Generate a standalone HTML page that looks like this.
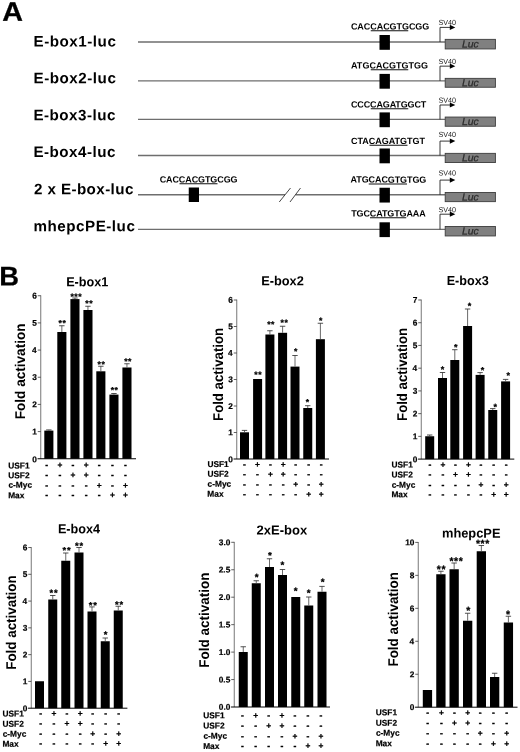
<!DOCTYPE html>
<html lang="en">
<head>
<meta charset="utf-8">
<title>E-box luciferase reporter constructs and fold activation</title>
<style>
html,body{margin:0;padding:0;background:#fff;}
body{width:520px;height:752px;overflow:hidden;}
svg{display:block;font-family:"Liberation Sans", Arial, Helvetica, sans-serif;text-rendering:geometricPrecision;filter:blur(0.3px);}
</style>
</head>
<body>
<svg width="520" height="752" viewBox="0 0 520 752">
<rect width="520" height="752" fill="#fff"/>
<text transform="translate(2.28 20.80) rotate(0.04) scale(1.0693 1)" font-size="26.8" font-weight="bold" fill="#000" stroke="#000" stroke-width="0.3">A</text>
<text transform="translate(33.47 46.50) rotate(0.04)" font-size="15.2" font-weight="bold" letter-spacing="0.530" fill="#000" >E-box1-luc</text>
<path d="M138 42.0H445" stroke="#6e6e6e" stroke-width="1.3" fill="none"/>
<text transform="translate(350.89 29.50) rotate(0.04)" font-size="9.0" font-weight="bold" letter-spacing="-0.052" fill="#000" >CACCACGTGCGG</text>
<path d="M370.75 30.80H408.25" stroke="#111" stroke-width="1.05" fill="none"/>
<rect x="379.5" y="35.00" width="10.4" height="14.8" fill="#000"/>
<path d="M440.0 42.0V27.40H451" stroke="#222" stroke-width="0.9" fill="none"/>
<path d="M449.8 24.80L455.3 27.40L449.8 30.00Z" fill="#000"/>
<text transform="translate(438.58 25.00) rotate(0.04) scale(0.9667 1)" font-size="7.4" font-weight="normal" fill="#222" >SV40</text>
<rect x="445.2" y="39.35" width="50.2" height="9.60" fill="#808080" stroke="#3c3c3c" stroke-width="0.9"/>
<text transform="translate(461.99 47.55) rotate(0.04) scale(1.0142 1)" font-size="10.3" font-weight="normal" font-style="italic" fill="#2a2a2a" stroke="#2a2a2a" stroke-width="0.25">Luc</text>
<text transform="translate(33.47 83.25) rotate(0.04)" font-size="15.2" font-weight="bold" letter-spacing="0.530" fill="#000" >E-box2-luc</text>
<path d="M138 80.9H445" stroke="#6e6e6e" stroke-width="1.3" fill="none"/>
<text transform="translate(351.02 68.50) rotate(0.04)" font-size="9.0" font-weight="bold" letter-spacing="0.020" fill="#000" >ATGCACGTGTGG</text>
<path d="M370.75 69.80H408.25" stroke="#111" stroke-width="1.05" fill="none"/>
<rect x="379.5" y="73.90" width="10.4" height="14.8" fill="#000"/>
<path d="M440.0 80.9V66.15H451" stroke="#222" stroke-width="0.9" fill="none"/>
<path d="M449.8 63.55L455.3 66.15L449.8 68.75Z" fill="#000"/>
<text transform="translate(438.58 63.90) rotate(0.04) scale(0.9667 1)" font-size="7.4" font-weight="normal" fill="#222" >SV40</text>
<rect x="445.2" y="78.35" width="50.2" height="8.90" fill="#808080" stroke="#3c3c3c" stroke-width="0.9"/>
<text transform="translate(461.99 86.20) rotate(0.04) scale(1.0142 1)" font-size="10.3" font-weight="normal" font-style="italic" fill="#2a2a2a" stroke="#2a2a2a" stroke-width="0.25">Luc</text>
<text transform="translate(33.47 120.25) rotate(0.04)" font-size="15.2" font-weight="bold" letter-spacing="0.475" fill="#000" >E-box3-luc</text>
<path d="M138 119.4H445" stroke="#6e6e6e" stroke-width="1.3" fill="none"/>
<text transform="translate(350.89 107.50) rotate(0.04)" font-size="9.0" font-weight="bold" letter-spacing="-0.124" fill="#000" >CCCCAGATGGCT</text>
<path d="M370.75 108.80H408.25" stroke="#111" stroke-width="1.05" fill="none"/>
<rect x="379.5" y="112.40" width="10.4" height="14.8" fill="#000"/>
<path d="M440.0 119.4V105.00H451" stroke="#222" stroke-width="0.9" fill="none"/>
<path d="M449.8 102.40L455.3 105.00L449.8 107.60Z" fill="#000"/>
<text transform="translate(438.58 102.80) rotate(0.04) scale(0.9667 1)" font-size="7.4" font-weight="normal" fill="#222" >SV40</text>
<rect x="445.2" y="117.05" width="50.2" height="9.20" fill="#808080" stroke="#3c3c3c" stroke-width="0.9"/>
<text transform="translate(461.99 125.05) rotate(0.04) scale(1.0142 1)" font-size="10.3" font-weight="normal" font-style="italic" fill="#2a2a2a" stroke="#2a2a2a" stroke-width="0.25">Luc</text>
<text transform="translate(33.47 157.00) rotate(0.04)" font-size="15.2" font-weight="bold" letter-spacing="0.475" fill="#000" >E-box4-luc</text>
<path d="M138 155.5H445" stroke="#6e6e6e" stroke-width="1.3" fill="none"/>
<text transform="translate(350.89 144.00) rotate(0.04)" font-size="9.0" font-weight="bold" letter-spacing="0.006" fill="#000" >CTACAGATGTGT</text>
<path d="M369.5 145.30H407.5" stroke="#111" stroke-width="1.05" fill="none"/>
<rect x="379.5" y="148.50" width="10.4" height="14.8" fill="#000"/>
<path d="M440.0 155.5V141.10H451" stroke="#222" stroke-width="0.9" fill="none"/>
<path d="M449.8 138.50L455.3 141.10L449.8 143.70Z" fill="#000"/>
<text transform="translate(438.58 137.00) rotate(0.04) scale(0.9667 1)" font-size="7.4" font-weight="normal" fill="#222" >SV40</text>
<rect x="445.2" y="153.35" width="50.2" height="9.20" fill="#808080" stroke="#3c3c3c" stroke-width="0.9"/>
<text transform="translate(461.99 161.35) rotate(0.04) scale(1.0142 1)" font-size="10.3" font-weight="normal" font-style="italic" fill="#2a2a2a" stroke="#2a2a2a" stroke-width="0.25">Luc</text>
<text transform="translate(33.97 194.25) rotate(0.04)" font-size="15.2" font-weight="bold" letter-spacing="0.406" fill="#000" >2 x E-box-luc</text>
<path d="M138 194.75H285M295.5 194.75H445" stroke="#6e6e6e" stroke-width="1.3" fill="none"/>
<path d="M279.25 202L290.5 188M290 202L300.5 188" stroke="#333" stroke-width="0.9" fill="none"/>
<text transform="translate(350.52 182.60) rotate(0.04)" font-size="9.0" font-weight="bold" letter-spacing="-0.093" fill="#000" >ATGCACGTGTGG</text>
<path d="M368.75 183.90H407.0" stroke="#111" stroke-width="1.05" fill="none"/>
<rect x="379.5" y="187.75" width="10.4" height="14.8" fill="#000"/>
<path d="M440.0 194.75V180.10H451" stroke="#222" stroke-width="0.9" fill="none"/>
<path d="M449.8 177.50L455.3 180.10L449.8 182.70Z" fill="#000"/>
<text transform="translate(438.58 175.60) rotate(0.04) scale(0.9667 1)" font-size="7.4" font-weight="normal" fill="#222" >SV40</text>
<rect x="445.2" y="192.45" width="50.2" height="9.20" fill="#808080" stroke="#3c3c3c" stroke-width="0.9"/>
<text transform="translate(461.99 200.45) rotate(0.04) scale(1.0142 1)" font-size="10.3" font-weight="normal" font-style="italic" fill="#2a2a2a" stroke="#2a2a2a" stroke-width="0.25">Luc</text>
<text transform="translate(33.51 231.25) rotate(0.04)" font-size="15.2" font-weight="bold" letter-spacing="0.511" fill="#000" >mhepcPE-luc</text>
<path d="M138 229.3H445" stroke="#6e6e6e" stroke-width="1.3" fill="none"/>
<text transform="translate(351.16 216.50) rotate(0.04)" font-size="9.0" font-weight="bold" letter-spacing="-0.113" fill="#000" >TGCCATGTGAAA</text>
<path d="M370.0 217.80H406.25" stroke="#111" stroke-width="1.05" fill="none"/>
<rect x="379.5" y="222.30" width="10.4" height="14.8" fill="#000"/>
<path d="M440.0 229.3V214.20H451" stroke="#222" stroke-width="0.9" fill="none"/>
<path d="M449.8 211.60L455.3 214.20L449.8 216.80Z" fill="#000"/>
<text transform="translate(438.58 212.30) rotate(0.04) scale(0.9667 1)" font-size="7.4" font-weight="normal" fill="#222" >SV40</text>
<rect x="445.2" y="226.45" width="50.2" height="9.50" fill="#808080" stroke="#3c3c3c" stroke-width="0.9"/>
<text transform="translate(461.99 234.60) rotate(0.04) scale(1.0142 1)" font-size="10.3" font-weight="normal" font-style="italic" fill="#2a2a2a" stroke="#2a2a2a" stroke-width="0.25">Luc</text>
<text transform="translate(159.64 182.50) rotate(0.04)" font-size="9.0" font-weight="bold" letter-spacing="-0.098" fill="#000" >CACCACGTGCGG</text>
<path d="M179.5 183.8H217.5" stroke="#111" stroke-width="1.05" fill="none"/>
<rect x="188.75" y="187.50" width="10.25" height="14.5" fill="#000"/>
<text transform="translate(-0.75 285.40) rotate(0.04) scale(1.0140 1)" font-size="27.0" font-weight="bold" fill="#000" stroke="#000" stroke-width="0.2">B</text>
<text transform="translate(66.15 286.25) rotate(0.04) scale(0.9742 1)" font-size="13.0" font-weight="bold" fill="#000" >E-box1</text>
<path d="M40.75 295.33V458.75" stroke="#4a4a4a" stroke-width="0.75" fill="none"/>
<path d="M37.55 458.75H136" stroke="#000" stroke-width="1" fill="none"/>
<text transform="translate(32.28 462.20) rotate(0.04)" font-size="8.3" font-weight="bold" stroke="#000" stroke-width="0.2">0</text>
<path d="M37.75 431.58H40.75" stroke="#3a3a3a" stroke-width="0.8" fill="none"/>
<text transform="translate(32.17 434.43) rotate(0.04)" font-size="8.3" font-weight="bold" stroke="#000" stroke-width="0.2">1</text>
<path d="M37.75 404.41H40.75" stroke="#3a3a3a" stroke-width="0.8" fill="none"/>
<text transform="translate(32.28 407.30) rotate(0.04)" font-size="8.3" font-weight="bold" stroke="#000" stroke-width="0.2">2</text>
<path d="M37.75 377.24H40.75" stroke="#3a3a3a" stroke-width="0.8" fill="none"/>
<text transform="translate(32.23 380.08) rotate(0.04)" font-size="8.3" font-weight="bold" stroke="#000" stroke-width="0.2">3</text>
<path d="M37.75 350.07H40.75" stroke="#3a3a3a" stroke-width="0.8" fill="none"/>
<text transform="translate(31.98 352.92) rotate(0.04)" font-size="8.3" font-weight="bold" stroke="#000" stroke-width="0.2">4</text>
<path d="M37.75 322.90H40.75" stroke="#3a3a3a" stroke-width="0.8" fill="none"/>
<text transform="translate(32.17 325.71) rotate(0.04)" font-size="8.3" font-weight="bold" stroke="#000" stroke-width="0.2">5</text>
<path d="M37.75 295.73H40.75" stroke="#3a3a3a" stroke-width="0.8" fill="none"/>
<text transform="translate(32.23 298.58) rotate(0.04)" font-size="8.3" font-weight="bold" stroke="#000" stroke-width="0.2">6</text>
<rect x="44.3" y="430.6" width="9.1" height="28.15" fill="#000"/>
<path d="M48.85 430.6V429.9" stroke="#444" stroke-width="0.8" fill="none"/>
<path d="M46.15 429.9H51.55" stroke="#333" stroke-width="0.85" fill="none"/>
<rect x="57.3" y="332" width="9.1" height="126.75" fill="#000"/>
<path d="M61.85 332V325.75" stroke="#444" stroke-width="0.8" fill="none"/>
<path d="M59.15 325.75H64.55" stroke="#333" stroke-width="0.85" fill="none"/>
<text transform="translate(58.52 326.06) rotate(0.04)" font-size="8.6" font-weight="bold" fill="#000" stroke="#000" stroke-width="0.25" letter-spacing="0.55">**</text>
<rect x="70.4" y="299.1" width="9.1" height="159.65" fill="#000"/>
<path d="M74.95 299.1V298.0" stroke="#444" stroke-width="0.8" fill="none"/>
<path d="M72.25 298.0H77.65" stroke="#333" stroke-width="0.85" fill="none"/>
<text transform="translate(70.48 299.51) rotate(0.04)" font-size="8.6" font-weight="bold" fill="#000" stroke="#000" stroke-width="0.25" letter-spacing="0.55">***</text>
<rect x="83.4" y="310" width="9.1" height="148.75" fill="#000"/>
<path d="M87.95 310V306.25" stroke="#444" stroke-width="0.8" fill="none"/>
<path d="M85.25 306.25H90.65" stroke="#333" stroke-width="0.85" fill="none"/>
<text transform="translate(85.32 306.31) rotate(0.04)" font-size="8.6" font-weight="bold" fill="#000" stroke="#000" stroke-width="0.25" letter-spacing="0.55">**</text>
<rect x="96.3" y="371.3" width="9.1" height="87.45" fill="#000"/>
<path d="M100.85 371.3V366.25" stroke="#444" stroke-width="0.8" fill="none"/>
<path d="M98.15 366.25H103.55" stroke="#333" stroke-width="0.85" fill="none"/>
<text transform="translate(97.62 367.31) rotate(0.04)" font-size="8.6" font-weight="bold" fill="#000" stroke="#000" stroke-width="0.25" letter-spacing="0.55">**</text>
<rect x="109.4" y="394.6" width="9.1" height="64.15" fill="#000"/>
<path d="M113.95 394.6V393.5" stroke="#444" stroke-width="0.8" fill="none"/>
<path d="M111.25 393.5H116.65" stroke="#333" stroke-width="0.85" fill="none"/>
<text transform="translate(110.72 393.06) rotate(0.04)" font-size="8.6" font-weight="bold" fill="#000" stroke="#000" stroke-width="0.25" letter-spacing="0.55">**</text>
<rect x="122.4" y="367.5" width="9.1" height="91.25" fill="#000"/>
<path d="M126.95 367.5V363.75" stroke="#444" stroke-width="0.8" fill="none"/>
<path d="M124.25 363.75H129.65" stroke="#333" stroke-width="0.85" fill="none"/>
<text transform="translate(124.22 364.31) rotate(0.04)" font-size="8.6" font-weight="bold" fill="#000" stroke="#000" stroke-width="0.25" letter-spacing="0.55">**</text>
<text transform="translate(25.2 419.32) rotate(-90) scale(0.9644 1)" font-size="14.1" font-weight="bold">Fold activation</text>
<text transform="translate(8.25 468.55) rotate(0.04) scale(0.9792 1)" font-size="8.5" font-weight="bold" fill="#000" stroke="#000" stroke-width="0.2">USF1</text>
<text transform="translate(8.25 478.30) rotate(0.04) scale(0.9792 1)" font-size="8.5" font-weight="bold" fill="#000" stroke="#000" stroke-width="0.2">USF2</text>
<text transform="translate(8.42 487.80) rotate(0.04) scale(0.9792 1)" font-size="8.5" font-weight="bold" fill="#000" stroke="#000" stroke-width="0.2">c-Myc</text>
<text transform="translate(8.19 498.30) rotate(0.04) scale(0.9792 1)" font-size="8.5" font-weight="bold" fill="#000" stroke="#000" stroke-width="0.2">Max</text>
<text transform="translate(45.32 467.84) rotate(0.04)" font-size="8.6" font-weight="bold" fill="#000" stroke="#000" stroke-width="0.3">-</text>
<text transform="translate(57.54 467.80) rotate(0.04)" font-size="8.4" font-weight="bold" fill="#000" stroke="#000" stroke-width="0.25">+</text>
<text transform="translate(71.57 467.84) rotate(0.04)" font-size="8.6" font-weight="bold" fill="#000" stroke="#000" stroke-width="0.3">-</text>
<text transform="translate(83.79 467.80) rotate(0.04)" font-size="8.4" font-weight="bold" fill="#000" stroke="#000" stroke-width="0.25">+</text>
<text transform="translate(97.82 467.84) rotate(0.04)" font-size="8.6" font-weight="bold" fill="#000" stroke="#000" stroke-width="0.3">-</text>
<text transform="translate(111.07 467.84) rotate(0.04)" font-size="8.6" font-weight="bold" fill="#000" stroke="#000" stroke-width="0.3">-</text>
<text transform="translate(123.97 467.84) rotate(0.04)" font-size="8.6" font-weight="bold" fill="#000" stroke="#000" stroke-width="0.3">-</text>
<text transform="translate(45.32 477.84) rotate(0.04)" font-size="8.6" font-weight="bold" fill="#000" stroke="#000" stroke-width="0.3">-</text>
<text transform="translate(58.57 477.84) rotate(0.04)" font-size="8.6" font-weight="bold" fill="#000" stroke="#000" stroke-width="0.3">-</text>
<text transform="translate(70.54 477.80) rotate(0.04)" font-size="8.4" font-weight="bold" fill="#000" stroke="#000" stroke-width="0.25">+</text>
<text transform="translate(83.79 477.80) rotate(0.04)" font-size="8.4" font-weight="bold" fill="#000" stroke="#000" stroke-width="0.25">+</text>
<text transform="translate(97.82 477.84) rotate(0.04)" font-size="8.6" font-weight="bold" fill="#000" stroke="#000" stroke-width="0.3">-</text>
<text transform="translate(111.07 477.84) rotate(0.04)" font-size="8.6" font-weight="bold" fill="#000" stroke="#000" stroke-width="0.3">-</text>
<text transform="translate(123.97 477.84) rotate(0.04)" font-size="8.6" font-weight="bold" fill="#000" stroke="#000" stroke-width="0.3">-</text>
<text transform="translate(45.32 488.24) rotate(0.04)" font-size="8.6" font-weight="bold" fill="#000" stroke="#000" stroke-width="0.3">-</text>
<text transform="translate(58.57 488.24) rotate(0.04)" font-size="8.6" font-weight="bold" fill="#000" stroke="#000" stroke-width="0.3">-</text>
<text transform="translate(71.57 488.24) rotate(0.04)" font-size="8.6" font-weight="bold" fill="#000" stroke="#000" stroke-width="0.3">-</text>
<text transform="translate(84.82 488.24) rotate(0.04)" font-size="8.6" font-weight="bold" fill="#000" stroke="#000" stroke-width="0.3">-</text>
<text transform="translate(96.79 488.20) rotate(0.04)" font-size="8.4" font-weight="bold" fill="#000" stroke="#000" stroke-width="0.25">+</text>
<text transform="translate(111.07 488.24) rotate(0.04)" font-size="8.6" font-weight="bold" fill="#000" stroke="#000" stroke-width="0.3">-</text>
<text transform="translate(122.94 488.20) rotate(0.04)" font-size="8.4" font-weight="bold" fill="#000" stroke="#000" stroke-width="0.25">+</text>
<text transform="translate(45.32 497.84) rotate(0.04)" font-size="8.6" font-weight="bold" fill="#000" stroke="#000" stroke-width="0.3">-</text>
<text transform="translate(58.57 497.84) rotate(0.04)" font-size="8.6" font-weight="bold" fill="#000" stroke="#000" stroke-width="0.3">-</text>
<text transform="translate(71.57 497.84) rotate(0.04)" font-size="8.6" font-weight="bold" fill="#000" stroke="#000" stroke-width="0.3">-</text>
<text transform="translate(84.82 497.84) rotate(0.04)" font-size="8.6" font-weight="bold" fill="#000" stroke="#000" stroke-width="0.3">-</text>
<text transform="translate(97.82 497.84) rotate(0.04)" font-size="8.6" font-weight="bold" fill="#000" stroke="#000" stroke-width="0.3">-</text>
<text transform="translate(110.04 497.80) rotate(0.04)" font-size="8.4" font-weight="bold" fill="#000" stroke="#000" stroke-width="0.25">+</text>
<text transform="translate(122.94 497.80) rotate(0.04)" font-size="8.4" font-weight="bold" fill="#000" stroke="#000" stroke-width="0.25">+</text>
<text transform="translate(261.14 285.25) rotate(0.04) scale(0.9839 1)" font-size="13.0" font-weight="bold" fill="#000" >E-box2</text>
<path d="M236.75 299.60V459.0" stroke="#4a4a4a" stroke-width="0.75" fill="none"/>
<path d="M233.55 459.0H329" stroke="#000" stroke-width="1" fill="none"/>
<text transform="translate(228.28 462.35) rotate(0.04)" font-size="8.3" font-weight="bold" stroke="#000" stroke-width="0.2">0</text>
<path d="M233.75 432.50H236.75" stroke="#3a3a3a" stroke-width="0.8" fill="none"/>
<text transform="translate(228.17 435.35) rotate(0.04)" font-size="8.3" font-weight="bold" stroke="#000" stroke-width="0.2">1</text>
<path d="M233.75 406.00H236.75" stroke="#3a3a3a" stroke-width="0.8" fill="none"/>
<text transform="translate(228.28 408.89) rotate(0.04)" font-size="8.3" font-weight="bold" stroke="#000" stroke-width="0.2">2</text>
<path d="M233.75 379.50H236.75" stroke="#3a3a3a" stroke-width="0.8" fill="none"/>
<text transform="translate(228.23 382.34) rotate(0.04)" font-size="8.3" font-weight="bold" stroke="#000" stroke-width="0.2">3</text>
<path d="M233.75 353.00H236.75" stroke="#3a3a3a" stroke-width="0.8" fill="none"/>
<text transform="translate(227.99 355.85) rotate(0.04)" font-size="8.3" font-weight="bold" stroke="#000" stroke-width="0.2">4</text>
<path d="M233.75 326.50H236.75" stroke="#3a3a3a" stroke-width="0.8" fill="none"/>
<text transform="translate(228.17 329.31) rotate(0.04)" font-size="8.3" font-weight="bold" stroke="#000" stroke-width="0.2">5</text>
<path d="M233.75 300.00H236.75" stroke="#3a3a3a" stroke-width="0.8" fill="none"/>
<text transform="translate(228.23 302.85) rotate(0.04)" font-size="8.3" font-weight="bold" stroke="#000" stroke-width="0.2">6</text>
<rect x="240" y="432.3" width="9" height="26.70" fill="#000"/>
<path d="M244.50 432.3V430.4" stroke="#444" stroke-width="0.8" fill="none"/>
<path d="M241.80 430.4H247.20" stroke="#333" stroke-width="0.85" fill="none"/>
<rect x="253.1" y="379.0" width="9" height="80.00" fill="#000"/>
<text transform="translate(254.37 377.61) rotate(0.04)" font-size="8.6" font-weight="bold" fill="#000" stroke="#000" stroke-width="0.25" letter-spacing="0.55">**</text>
<rect x="265.4" y="334.5" width="9" height="124.50" fill="#000"/>
<path d="M269.90 334.5V330.75" stroke="#444" stroke-width="0.8" fill="none"/>
<path d="M267.20 330.75H272.60" stroke="#333" stroke-width="0.85" fill="none"/>
<text transform="translate(267.17 327.31) rotate(0.04)" font-size="8.6" font-weight="bold" fill="#000" stroke="#000" stroke-width="0.25" letter-spacing="0.55">**</text>
<rect x="278.1" y="332.8" width="9" height="126.20" fill="#000"/>
<path d="M282.60 332.8V326.25" stroke="#444" stroke-width="0.8" fill="none"/>
<path d="M279.90 326.25H285.30" stroke="#333" stroke-width="0.85" fill="none"/>
<text transform="translate(280.57 325.61) rotate(0.04)" font-size="8.6" font-weight="bold" fill="#000" stroke="#000" stroke-width="0.25" letter-spacing="0.55">**</text>
<rect x="290.5" y="366.6" width="9" height="92.40" fill="#000"/>
<path d="M295.00 366.6V355.5" stroke="#444" stroke-width="0.8" fill="none"/>
<path d="M292.30 355.5H297.70" stroke="#333" stroke-width="0.85" fill="none"/>
<text transform="translate(294.07 354.31) rotate(0.04)" font-size="8.6" font-weight="bold" fill="#000" stroke="#000" stroke-width="0.25" letter-spacing="0.55">*</text>
<rect x="303.25" y="408.0" width="9" height="51.00" fill="#000"/>
<path d="M307.75 408.0V405.7" stroke="#444" stroke-width="0.8" fill="none"/>
<path d="M305.05 405.7H310.45" stroke="#333" stroke-width="0.85" fill="none"/>
<text transform="translate(305.87 405.01) rotate(0.04)" font-size="8.6" font-weight="bold" fill="#000" stroke="#000" stroke-width="0.25" letter-spacing="0.55">*</text>
<rect x="315.9" y="339.2" width="9" height="119.80" fill="#000"/>
<path d="M320.40 339.2V323.25" stroke="#444" stroke-width="0.8" fill="none"/>
<path d="M317.70 323.25H323.10" stroke="#333" stroke-width="0.85" fill="none"/>
<text transform="translate(318.92 323.61) rotate(0.04)" font-size="8.6" font-weight="bold" fill="#000" stroke="#000" stroke-width="0.25" letter-spacing="0.55">*</text>
<text transform="translate(222.8 420.89) rotate(-90) scale(0.9347 1)" font-size="14.1" font-weight="bold">Fold activation</text>
<text transform="translate(207.40 467.10) rotate(0.04) scale(0.9792 1)" font-size="8.5" font-weight="bold" fill="#000" stroke="#000" stroke-width="0.2">USF1</text>
<text transform="translate(207.40 476.70) rotate(0.04) scale(0.9792 1)" font-size="8.5" font-weight="bold" fill="#000" stroke="#000" stroke-width="0.2">USF2</text>
<text transform="translate(207.57 486.70) rotate(0.04) scale(0.9792 1)" font-size="8.5" font-weight="bold" fill="#000" stroke="#000" stroke-width="0.2">c-Myc</text>
<text transform="translate(207.34 496.70) rotate(0.04) scale(0.9792 1)" font-size="8.5" font-weight="bold" fill="#000" stroke="#000" stroke-width="0.2">Max</text>
<text transform="translate(243.07 467.34) rotate(0.04)" font-size="8.6" font-weight="bold" fill="#000" stroke="#000" stroke-width="0.3">-</text>
<text transform="translate(255.04 467.30) rotate(0.04)" font-size="8.4" font-weight="bold" fill="#000" stroke="#000" stroke-width="0.25">+</text>
<text transform="translate(269.07 467.34) rotate(0.04)" font-size="8.6" font-weight="bold" fill="#000" stroke="#000" stroke-width="0.3">-</text>
<text transform="translate(280.79 467.30) rotate(0.04)" font-size="8.4" font-weight="bold" fill="#000" stroke="#000" stroke-width="0.25">+</text>
<text transform="translate(294.32 467.34) rotate(0.04)" font-size="8.6" font-weight="bold" fill="#000" stroke="#000" stroke-width="0.3">-</text>
<text transform="translate(307.32 467.34) rotate(0.04)" font-size="8.6" font-weight="bold" fill="#000" stroke="#000" stroke-width="0.3">-</text>
<text transform="translate(319.82 467.34) rotate(0.04)" font-size="8.6" font-weight="bold" fill="#000" stroke="#000" stroke-width="0.3">-</text>
<text transform="translate(243.07 476.94) rotate(0.04)" font-size="8.6" font-weight="bold" fill="#000" stroke="#000" stroke-width="0.3">-</text>
<text transform="translate(256.07 476.94) rotate(0.04)" font-size="8.6" font-weight="bold" fill="#000" stroke="#000" stroke-width="0.3">-</text>
<text transform="translate(268.04 476.90) rotate(0.04)" font-size="8.4" font-weight="bold" fill="#000" stroke="#000" stroke-width="0.25">+</text>
<text transform="translate(280.79 476.90) rotate(0.04)" font-size="8.4" font-weight="bold" fill="#000" stroke="#000" stroke-width="0.25">+</text>
<text transform="translate(294.32 476.94) rotate(0.04)" font-size="8.6" font-weight="bold" fill="#000" stroke="#000" stroke-width="0.3">-</text>
<text transform="translate(307.32 476.94) rotate(0.04)" font-size="8.6" font-weight="bold" fill="#000" stroke="#000" stroke-width="0.3">-</text>
<text transform="translate(319.82 476.94) rotate(0.04)" font-size="8.6" font-weight="bold" fill="#000" stroke="#000" stroke-width="0.3">-</text>
<text transform="translate(243.07 487.14) rotate(0.04)" font-size="8.6" font-weight="bold" fill="#000" stroke="#000" stroke-width="0.3">-</text>
<text transform="translate(256.07 487.14) rotate(0.04)" font-size="8.6" font-weight="bold" fill="#000" stroke="#000" stroke-width="0.3">-</text>
<text transform="translate(269.07 487.14) rotate(0.04)" font-size="8.6" font-weight="bold" fill="#000" stroke="#000" stroke-width="0.3">-</text>
<text transform="translate(281.82 487.14) rotate(0.04)" font-size="8.6" font-weight="bold" fill="#000" stroke="#000" stroke-width="0.3">-</text>
<text transform="translate(293.29 487.10) rotate(0.04)" font-size="8.4" font-weight="bold" fill="#000" stroke="#000" stroke-width="0.25">+</text>
<text transform="translate(307.32 487.14) rotate(0.04)" font-size="8.6" font-weight="bold" fill="#000" stroke="#000" stroke-width="0.3">-</text>
<text transform="translate(318.79 487.10) rotate(0.04)" font-size="8.4" font-weight="bold" fill="#000" stroke="#000" stroke-width="0.25">+</text>
<text transform="translate(243.07 496.94) rotate(0.04)" font-size="8.6" font-weight="bold" fill="#000" stroke="#000" stroke-width="0.3">-</text>
<text transform="translate(256.07 496.94) rotate(0.04)" font-size="8.6" font-weight="bold" fill="#000" stroke="#000" stroke-width="0.3">-</text>
<text transform="translate(269.07 496.94) rotate(0.04)" font-size="8.6" font-weight="bold" fill="#000" stroke="#000" stroke-width="0.3">-</text>
<text transform="translate(281.82 496.94) rotate(0.04)" font-size="8.6" font-weight="bold" fill="#000" stroke="#000" stroke-width="0.3">-</text>
<text transform="translate(294.32 496.94) rotate(0.04)" font-size="8.6" font-weight="bold" fill="#000" stroke="#000" stroke-width="0.3">-</text>
<text transform="translate(306.29 496.90) rotate(0.04)" font-size="8.4" font-weight="bold" fill="#000" stroke="#000" stroke-width="0.25">+</text>
<text transform="translate(318.79 496.90) rotate(0.04)" font-size="8.4" font-weight="bold" fill="#000" stroke="#000" stroke-width="0.25">+</text>
<text transform="translate(446.65 285.00) rotate(0.04) scale(0.9705 1)" font-size="13.0" font-weight="bold" fill="#000" >E-box3</text>
<path d="M421.25 299.59V459.1" stroke="#4a4a4a" stroke-width="0.75" fill="none"/>
<path d="M418.05 459.1H514.3" stroke="#000" stroke-width="1" fill="none"/>
<text transform="translate(412.78 462.25) rotate(0.04)" font-size="8.3" font-weight="bold" stroke="#000" stroke-width="0.2">0</text>
<path d="M418.25 436.37H421.25" stroke="#3a3a3a" stroke-width="0.8" fill="none"/>
<text transform="translate(412.67 439.22) rotate(0.04)" font-size="8.3" font-weight="bold" stroke="#000" stroke-width="0.2">1</text>
<path d="M418.25 413.64H421.25" stroke="#3a3a3a" stroke-width="0.8" fill="none"/>
<text transform="translate(412.78 416.53) rotate(0.04)" font-size="8.3" font-weight="bold" stroke="#000" stroke-width="0.2">2</text>
<path d="M418.25 390.91H421.25" stroke="#3a3a3a" stroke-width="0.8" fill="none"/>
<text transform="translate(412.73 393.75) rotate(0.04)" font-size="8.3" font-weight="bold" stroke="#000" stroke-width="0.2">3</text>
<path d="M418.25 368.18H421.25" stroke="#3a3a3a" stroke-width="0.8" fill="none"/>
<text transform="translate(412.49 371.03) rotate(0.04)" font-size="8.3" font-weight="bold" stroke="#000" stroke-width="0.2">4</text>
<path d="M418.25 345.45H421.25" stroke="#3a3a3a" stroke-width="0.8" fill="none"/>
<text transform="translate(412.67 348.26) rotate(0.04)" font-size="8.3" font-weight="bold" stroke="#000" stroke-width="0.2">5</text>
<path d="M418.25 322.72H421.25" stroke="#3a3a3a" stroke-width="0.8" fill="none"/>
<text transform="translate(412.73 325.57) rotate(0.04)" font-size="8.3" font-weight="bold" stroke="#000" stroke-width="0.2">6</text>
<path d="M418.25 299.99H421.25" stroke="#3a3a3a" stroke-width="0.8" fill="none"/>
<text transform="translate(412.80 302.84) rotate(0.04)" font-size="8.3" font-weight="bold" stroke="#000" stroke-width="0.2">7</text>
<rect x="425.2" y="436.25" width="9" height="22.85" fill="#000"/>
<path d="M429.70 436.25V435.0" stroke="#444" stroke-width="0.8" fill="none"/>
<path d="M427.00 435.0H432.40" stroke="#333" stroke-width="0.85" fill="none"/>
<rect x="438" y="378" width="9" height="81.10" fill="#000"/>
<path d="M442.50 378V372.5" stroke="#444" stroke-width="0.8" fill="none"/>
<path d="M439.80 372.5H445.20" stroke="#333" stroke-width="0.85" fill="none"/>
<text transform="translate(440.85 372.51) rotate(0.04)" font-size="9.0" font-weight="bold" fill="#000" stroke="#000" stroke-width="0.25" letter-spacing="0.55">*</text>
<rect x="450.3" y="360" width="9" height="99.10" fill="#000"/>
<path d="M454.80 360V349.7" stroke="#444" stroke-width="0.8" fill="none"/>
<path d="M452.10 349.7H457.50" stroke="#333" stroke-width="0.85" fill="none"/>
<text transform="translate(453.94 350.31) rotate(0.04)" font-size="9.0" font-weight="bold" fill="#000" stroke="#000" stroke-width="0.25" letter-spacing="0.55">*</text>
<rect x="463.1" y="326.0" width="9" height="133.10" fill="#000"/>
<path d="M467.60 326.0V309.0" stroke="#444" stroke-width="0.8" fill="none"/>
<path d="M464.90 309.0H470.30" stroke="#333" stroke-width="0.85" fill="none"/>
<text transform="translate(467.75 309.11) rotate(0.04)" font-size="9.0" font-weight="bold" fill="#000" stroke="#000" stroke-width="0.25" letter-spacing="0.55">*</text>
<rect x="475.6" y="374.9" width="9" height="84.20" fill="#000"/>
<path d="M480.10 374.9V372.6" stroke="#444" stroke-width="0.8" fill="none"/>
<path d="M477.40 372.6H482.80" stroke="#333" stroke-width="0.85" fill="none"/>
<text transform="translate(480.75 373.31) rotate(0.04)" font-size="9.0" font-weight="bold" fill="#000" stroke="#000" stroke-width="0.25" letter-spacing="0.55">*</text>
<rect x="488.25" y="410.0" width="9" height="49.10" fill="#000"/>
<path d="M492.75 410.0V408.6" stroke="#444" stroke-width="0.8" fill="none"/>
<path d="M490.05 408.6H495.45" stroke="#333" stroke-width="0.85" fill="none"/>
<text transform="translate(493.39 410.01) rotate(0.04)" font-size="9.0" font-weight="bold" fill="#000" stroke="#000" stroke-width="0.25" letter-spacing="0.55">*</text>
<rect x="501.1" y="381.4" width="9" height="77.70" fill="#000"/>
<path d="M505.60 381.4V379.4" stroke="#444" stroke-width="0.8" fill="none"/>
<path d="M502.90 379.4H508.30" stroke="#333" stroke-width="0.85" fill="none"/>
<text transform="translate(506.55 378.51) rotate(0.04)" font-size="9.0" font-weight="bold" fill="#000" stroke="#000" stroke-width="0.25" letter-spacing="0.55">*</text>
<text transform="translate(407.2 420.89) rotate(-90) scale(0.9347 1)" font-size="14.1" font-weight="bold">Fold activation</text>
<text transform="translate(391.50 467.50) rotate(0.04) scale(0.9792 1)" font-size="8.5" font-weight="bold" fill="#000" stroke="#000" stroke-width="0.2">USF1</text>
<text transform="translate(391.50 477.55) rotate(0.04) scale(0.9792 1)" font-size="8.5" font-weight="bold" fill="#000" stroke="#000" stroke-width="0.2">USF2</text>
<text transform="translate(391.67 487.80) rotate(0.04) scale(0.9792 1)" font-size="8.5" font-weight="bold" fill="#000" stroke="#000" stroke-width="0.2">c-Myc</text>
<text transform="translate(391.44 497.30) rotate(0.04) scale(0.9792 1)" font-size="8.5" font-weight="bold" fill="#000" stroke="#000" stroke-width="0.2">Max</text>
<text transform="translate(428.57 467.54) rotate(0.04)" font-size="8.6" font-weight="bold" fill="#000" stroke="#000" stroke-width="0.3">-</text>
<text transform="translate(440.54 467.50) rotate(0.04)" font-size="8.4" font-weight="bold" fill="#000" stroke="#000" stroke-width="0.25">+</text>
<text transform="translate(454.07 467.54) rotate(0.04)" font-size="8.6" font-weight="bold" fill="#000" stroke="#000" stroke-width="0.3">-</text>
<text transform="translate(466.04 467.50) rotate(0.04)" font-size="8.4" font-weight="bold" fill="#000" stroke="#000" stroke-width="0.25">+</text>
<text transform="translate(479.57 467.54) rotate(0.04)" font-size="8.6" font-weight="bold" fill="#000" stroke="#000" stroke-width="0.3">-</text>
<text transform="translate(492.32 467.54) rotate(0.04)" font-size="8.6" font-weight="bold" fill="#000" stroke="#000" stroke-width="0.3">-</text>
<text transform="translate(504.82 467.54) rotate(0.04)" font-size="8.6" font-weight="bold" fill="#000" stroke="#000" stroke-width="0.3">-</text>
<text transform="translate(428.57 477.24) rotate(0.04)" font-size="8.6" font-weight="bold" fill="#000" stroke="#000" stroke-width="0.3">-</text>
<text transform="translate(441.57 477.24) rotate(0.04)" font-size="8.6" font-weight="bold" fill="#000" stroke="#000" stroke-width="0.3">-</text>
<text transform="translate(453.04 477.20) rotate(0.04)" font-size="8.4" font-weight="bold" fill="#000" stroke="#000" stroke-width="0.25">+</text>
<text transform="translate(466.04 477.20) rotate(0.04)" font-size="8.4" font-weight="bold" fill="#000" stroke="#000" stroke-width="0.25">+</text>
<text transform="translate(479.57 477.24) rotate(0.04)" font-size="8.6" font-weight="bold" fill="#000" stroke="#000" stroke-width="0.3">-</text>
<text transform="translate(492.32 477.24) rotate(0.04)" font-size="8.6" font-weight="bold" fill="#000" stroke="#000" stroke-width="0.3">-</text>
<text transform="translate(504.82 477.24) rotate(0.04)" font-size="8.6" font-weight="bold" fill="#000" stroke="#000" stroke-width="0.3">-</text>
<text transform="translate(428.57 487.64) rotate(0.04)" font-size="8.6" font-weight="bold" fill="#000" stroke="#000" stroke-width="0.3">-</text>
<text transform="translate(441.57 487.64) rotate(0.04)" font-size="8.6" font-weight="bold" fill="#000" stroke="#000" stroke-width="0.3">-</text>
<text transform="translate(454.07 487.64) rotate(0.04)" font-size="8.6" font-weight="bold" fill="#000" stroke="#000" stroke-width="0.3">-</text>
<text transform="translate(467.07 487.64) rotate(0.04)" font-size="8.6" font-weight="bold" fill="#000" stroke="#000" stroke-width="0.3">-</text>
<text transform="translate(478.54 487.60) rotate(0.04)" font-size="8.4" font-weight="bold" fill="#000" stroke="#000" stroke-width="0.25">+</text>
<text transform="translate(492.32 487.64) rotate(0.04)" font-size="8.6" font-weight="bold" fill="#000" stroke="#000" stroke-width="0.3">-</text>
<text transform="translate(503.79 487.60) rotate(0.04)" font-size="8.4" font-weight="bold" fill="#000" stroke="#000" stroke-width="0.25">+</text>
<text transform="translate(428.57 497.34) rotate(0.04)" font-size="8.6" font-weight="bold" fill="#000" stroke="#000" stroke-width="0.3">-</text>
<text transform="translate(441.57 497.34) rotate(0.04)" font-size="8.6" font-weight="bold" fill="#000" stroke="#000" stroke-width="0.3">-</text>
<text transform="translate(454.07 497.34) rotate(0.04)" font-size="8.6" font-weight="bold" fill="#000" stroke="#000" stroke-width="0.3">-</text>
<text transform="translate(467.07 497.34) rotate(0.04)" font-size="8.6" font-weight="bold" fill="#000" stroke="#000" stroke-width="0.3">-</text>
<text transform="translate(479.57 497.34) rotate(0.04)" font-size="8.6" font-weight="bold" fill="#000" stroke="#000" stroke-width="0.3">-</text>
<text transform="translate(491.29 497.30) rotate(0.04)" font-size="8.4" font-weight="bold" fill="#000" stroke="#000" stroke-width="0.25">+</text>
<text transform="translate(503.79 497.30) rotate(0.04)" font-size="8.4" font-weight="bold" fill="#000" stroke="#000" stroke-width="0.25">+</text>
<text transform="translate(57.90 533.35) rotate(0.04) scale(0.9733 1)" font-size="13.0" font-weight="bold" fill="#000" >E-box4</text>
<path d="M31.25 547.12V708.2" stroke="#4a4a4a" stroke-width="0.75" fill="none"/>
<path d="M28.05 708.2H127.4" stroke="#000" stroke-width="1" fill="none"/>
<text transform="translate(22.78 711.15) rotate(0.04)" font-size="8.3" font-weight="bold" stroke="#000" stroke-width="0.2">0</text>
<path d="M28.25 681.42H31.25" stroke="#3a3a3a" stroke-width="0.8" fill="none"/>
<text transform="translate(22.67 684.27) rotate(0.04)" font-size="8.3" font-weight="bold" stroke="#000" stroke-width="0.2">1</text>
<path d="M28.25 654.64H31.25" stroke="#3a3a3a" stroke-width="0.8" fill="none"/>
<text transform="translate(22.78 657.53) rotate(0.04)" font-size="8.3" font-weight="bold" stroke="#000" stroke-width="0.2">2</text>
<path d="M28.25 627.86H31.25" stroke="#3a3a3a" stroke-width="0.8" fill="none"/>
<text transform="translate(22.73 630.70) rotate(0.04)" font-size="8.3" font-weight="bold" stroke="#000" stroke-width="0.2">3</text>
<path d="M28.25 601.08H31.25" stroke="#3a3a3a" stroke-width="0.8" fill="none"/>
<text transform="translate(22.48 603.93) rotate(0.04)" font-size="8.3" font-weight="bold" stroke="#000" stroke-width="0.2">4</text>
<path d="M28.25 574.30H31.25" stroke="#3a3a3a" stroke-width="0.8" fill="none"/>
<text transform="translate(22.67 577.11) rotate(0.04)" font-size="8.3" font-weight="bold" stroke="#000" stroke-width="0.2">5</text>
<path d="M28.25 547.52H31.25" stroke="#3a3a3a" stroke-width="0.8" fill="none"/>
<text transform="translate(22.73 550.37) rotate(0.04)" font-size="8.3" font-weight="bold" stroke="#000" stroke-width="0.2">6</text>
<rect x="35" y="681.25" width="9" height="26.95" fill="#000"/>
<rect x="48.25" y="599.5" width="9" height="108.70" fill="#000"/>
<path d="M52.75 599.5V595.5" stroke="#444" stroke-width="0.8" fill="none"/>
<path d="M50.05 595.5H55.45" stroke="#333" stroke-width="0.85" fill="none"/>
<text transform="translate(49.41 595.96) rotate(0.04)" font-size="9.4" font-weight="bold" fill="#000" stroke="#000" stroke-width="0.25" letter-spacing="0.85">**</text>
<rect x="61.25" y="560.75" width="9" height="147.45" fill="#000"/>
<path d="M65.75 560.75V553" stroke="#444" stroke-width="0.8" fill="none"/>
<path d="M63.05 553H68.45" stroke="#333" stroke-width="0.85" fill="none"/>
<text transform="translate(62.56 553.46) rotate(0.04)" font-size="9.4" font-weight="bold" fill="#000" stroke="#000" stroke-width="0.25" letter-spacing="0.85">**</text>
<rect x="74.5" y="552.5" width="9" height="155.70" fill="#000"/>
<path d="M79.00 552.5V547.5" stroke="#444" stroke-width="0.8" fill="none"/>
<path d="M76.30 547.5H81.70" stroke="#333" stroke-width="0.85" fill="none"/>
<text transform="translate(75.01 549.01) rotate(0.04)" font-size="9.4" font-weight="bold" fill="#000" stroke="#000" stroke-width="0.25" letter-spacing="0.85">**</text>
<rect x="87.5" y="611.5" width="9" height="96.70" fill="#000"/>
<path d="M92.00 611.5V606.9" stroke="#444" stroke-width="0.8" fill="none"/>
<path d="M89.30 606.9H94.70" stroke="#333" stroke-width="0.85" fill="none"/>
<text transform="translate(88.81 608.61) rotate(0.04)" font-size="9.4" font-weight="bold" fill="#000" stroke="#000" stroke-width="0.25" letter-spacing="0.85">**</text>
<rect x="100.75" y="641.25" width="9" height="66.95" fill="#000"/>
<path d="M105.25 641.25V638" stroke="#444" stroke-width="0.8" fill="none"/>
<path d="M102.55 638H107.95" stroke="#333" stroke-width="0.85" fill="none"/>
<text transform="translate(103.67 637.71) rotate(0.04)" font-size="9.4" font-weight="bold" fill="#000" stroke="#000" stroke-width="0.25" letter-spacing="0.85">*</text>
<rect x="113.75" y="610.5" width="9" height="97.70" fill="#000"/>
<path d="M118.25 610.5V606.25" stroke="#444" stroke-width="0.8" fill="none"/>
<path d="M115.55 606.25H120.95" stroke="#333" stroke-width="0.85" fill="none"/>
<text transform="translate(115.06 607.71) rotate(0.04)" font-size="9.4" font-weight="bold" fill="#000" stroke="#000" stroke-width="0.25" letter-spacing="0.85">**</text>
<text transform="translate(15.8 669.80) rotate(-90) scale(0.9501 1)" font-size="14.1" font-weight="bold">Fold activation</text>
<text transform="translate(2.50 716.40) rotate(0.04) scale(0.9792 1)" font-size="8.5" font-weight="bold" fill="#000" stroke="#000" stroke-width="0.2">USF1</text>
<text transform="translate(2.50 726.70) rotate(0.04) scale(0.9792 1)" font-size="8.5" font-weight="bold" fill="#000" stroke="#000" stroke-width="0.2">USF2</text>
<text transform="translate(2.67 736.65) rotate(0.04) scale(0.9792 1)" font-size="8.5" font-weight="bold" fill="#000" stroke="#000" stroke-width="0.2">c-Myc</text>
<text transform="translate(2.44 746.80) rotate(0.04) scale(0.9792 1)" font-size="8.5" font-weight="bold" fill="#000" stroke="#000" stroke-width="0.2">Max</text>
<text transform="translate(39.37 716.34) rotate(0.04)" font-size="8.6" font-weight="bold" fill="#000" stroke="#000" stroke-width="0.3">-</text>
<text transform="translate(51.59 716.30) rotate(0.04)" font-size="8.4" font-weight="bold" fill="#000" stroke="#000" stroke-width="0.25">+</text>
<text transform="translate(65.62 716.34) rotate(0.04)" font-size="8.6" font-weight="bold" fill="#000" stroke="#000" stroke-width="0.3">-</text>
<text transform="translate(77.84 716.30) rotate(0.04)" font-size="8.4" font-weight="bold" fill="#000" stroke="#000" stroke-width="0.25">+</text>
<text transform="translate(91.37 716.34) rotate(0.04)" font-size="8.6" font-weight="bold" fill="#000" stroke="#000" stroke-width="0.3">-</text>
<text transform="translate(104.37 716.34) rotate(0.04)" font-size="8.6" font-weight="bold" fill="#000" stroke="#000" stroke-width="0.3">-</text>
<text transform="translate(117.37 716.34) rotate(0.04)" font-size="8.6" font-weight="bold" fill="#000" stroke="#000" stroke-width="0.3">-</text>
<text transform="translate(39.37 726.24) rotate(0.04)" font-size="8.6" font-weight="bold" fill="#000" stroke="#000" stroke-width="0.3">-</text>
<text transform="translate(52.62 726.24) rotate(0.04)" font-size="8.6" font-weight="bold" fill="#000" stroke="#000" stroke-width="0.3">-</text>
<text transform="translate(64.59 726.20) rotate(0.04)" font-size="8.4" font-weight="bold" fill="#000" stroke="#000" stroke-width="0.25">+</text>
<text transform="translate(77.84 726.20) rotate(0.04)" font-size="8.4" font-weight="bold" fill="#000" stroke="#000" stroke-width="0.25">+</text>
<text transform="translate(91.37 726.24) rotate(0.04)" font-size="8.6" font-weight="bold" fill="#000" stroke="#000" stroke-width="0.3">-</text>
<text transform="translate(104.37 726.24) rotate(0.04)" font-size="8.6" font-weight="bold" fill="#000" stroke="#000" stroke-width="0.3">-</text>
<text transform="translate(117.37 726.24) rotate(0.04)" font-size="8.6" font-weight="bold" fill="#000" stroke="#000" stroke-width="0.3">-</text>
<text transform="translate(39.37 736.54) rotate(0.04)" font-size="8.6" font-weight="bold" fill="#000" stroke="#000" stroke-width="0.3">-</text>
<text transform="translate(52.62 736.54) rotate(0.04)" font-size="8.6" font-weight="bold" fill="#000" stroke="#000" stroke-width="0.3">-</text>
<text transform="translate(65.62 736.54) rotate(0.04)" font-size="8.6" font-weight="bold" fill="#000" stroke="#000" stroke-width="0.3">-</text>
<text transform="translate(78.87 736.54) rotate(0.04)" font-size="8.6" font-weight="bold" fill="#000" stroke="#000" stroke-width="0.3">-</text>
<text transform="translate(90.34 736.50) rotate(0.04)" font-size="8.4" font-weight="bold" fill="#000" stroke="#000" stroke-width="0.25">+</text>
<text transform="translate(104.37 736.54) rotate(0.04)" font-size="8.6" font-weight="bold" fill="#000" stroke="#000" stroke-width="0.3">-</text>
<text transform="translate(116.34 736.50) rotate(0.04)" font-size="8.4" font-weight="bold" fill="#000" stroke="#000" stroke-width="0.25">+</text>
<text transform="translate(39.37 746.34) rotate(0.04)" font-size="8.6" font-weight="bold" fill="#000" stroke="#000" stroke-width="0.3">-</text>
<text transform="translate(52.62 746.34) rotate(0.04)" font-size="8.6" font-weight="bold" fill="#000" stroke="#000" stroke-width="0.3">-</text>
<text transform="translate(65.62 746.34) rotate(0.04)" font-size="8.6" font-weight="bold" fill="#000" stroke="#000" stroke-width="0.3">-</text>
<text transform="translate(78.87 746.34) rotate(0.04)" font-size="8.6" font-weight="bold" fill="#000" stroke="#000" stroke-width="0.3">-</text>
<text transform="translate(91.37 746.34) rotate(0.04)" font-size="8.6" font-weight="bold" fill="#000" stroke="#000" stroke-width="0.3">-</text>
<text transform="translate(103.34 746.30) rotate(0.04)" font-size="8.4" font-weight="bold" fill="#000" stroke="#000" stroke-width="0.25">+</text>
<text transform="translate(116.34 746.30) rotate(0.04)" font-size="8.4" font-weight="bold" fill="#000" stroke="#000" stroke-width="0.25">+</text>
<text transform="translate(256.55 534.50) rotate(0.04) scale(0.9997 1)" font-size="13.0" font-weight="bold" fill="#000" >2xE-box</text>
<path d="M234.25 541.90V707.0" stroke="#4a4a4a" stroke-width="0.75" fill="none"/>
<path d="M231.05 707.0H330" stroke="#000" stroke-width="1" fill="none"/>
<text transform="translate(218.84 709.65) rotate(0.04)" font-size="8.3" font-weight="bold" stroke="#000" stroke-width="0.2">0.0</text>
<path d="M231.25 679.55H234.25" stroke="#3a3a3a" stroke-width="0.8" fill="none"/>
<text transform="translate(218.74 682.40) rotate(0.04)" font-size="8.3" font-weight="bold" stroke="#000" stroke-width="0.2">0.5</text>
<path d="M231.25 652.10H234.25" stroke="#3a3a3a" stroke-width="0.8" fill="none"/>
<text transform="translate(218.84 654.95) rotate(0.04)" font-size="8.3" font-weight="bold" stroke="#000" stroke-width="0.2">1.0</text>
<path d="M231.25 624.65H234.25" stroke="#3a3a3a" stroke-width="0.8" fill="none"/>
<text transform="translate(218.74 627.46) rotate(0.04)" font-size="8.3" font-weight="bold" stroke="#000" stroke-width="0.2">1.5</text>
<path d="M231.25 597.20H234.25" stroke="#3a3a3a" stroke-width="0.8" fill="none"/>
<text transform="translate(218.84 600.05) rotate(0.04)" font-size="8.3" font-weight="bold" stroke="#000" stroke-width="0.2">2.0</text>
<path d="M231.25 569.75H234.25" stroke="#3a3a3a" stroke-width="0.8" fill="none"/>
<text transform="translate(218.74 572.60) rotate(0.04)" font-size="8.3" font-weight="bold" stroke="#000" stroke-width="0.2">2.5</text>
<path d="M231.25 542.30H234.25" stroke="#3a3a3a" stroke-width="0.8" fill="none"/>
<text transform="translate(218.84 545.14) rotate(0.04)" font-size="8.3" font-weight="bold" stroke="#000" stroke-width="0.2">3.0</text>
<rect x="238.75" y="652" width="9" height="55.00" fill="#000"/>
<path d="M243.25 652V646.75" stroke="#444" stroke-width="0.8" fill="none"/>
<path d="M240.55 646.75H245.95" stroke="#333" stroke-width="0.85" fill="none"/>
<rect x="251.75" y="583.25" width="9" height="123.75" fill="#000"/>
<path d="M256.25 583.25V580.75" stroke="#444" stroke-width="0.8" fill="none"/>
<path d="M253.55 580.75H258.95" stroke="#333" stroke-width="0.85" fill="none"/>
<text transform="translate(254.74 580.41) rotate(0.04)" font-size="9.8" font-weight="bold" fill="#000" stroke="#000" stroke-width="0.25" letter-spacing="0.55">*</text>
<rect x="265" y="567" width="9" height="140.00" fill="#000"/>
<path d="M269.50 567V558.75" stroke="#444" stroke-width="0.8" fill="none"/>
<path d="M266.80 558.75H272.20" stroke="#333" stroke-width="0.85" fill="none"/>
<text transform="translate(267.99 558.66) rotate(0.04)" font-size="9.8" font-weight="bold" fill="#000" stroke="#000" stroke-width="0.25" letter-spacing="0.55">*</text>
<rect x="278" y="575" width="9" height="132.00" fill="#000"/>
<path d="M282.50 575V569.5" stroke="#444" stroke-width="0.8" fill="none"/>
<path d="M279.80 569.5H285.20" stroke="#333" stroke-width="0.85" fill="none"/>
<text transform="translate(280.59 568.16) rotate(0.04)" font-size="9.8" font-weight="bold" fill="#000" stroke="#000" stroke-width="0.25" letter-spacing="0.55">*</text>
<rect x="291.25" y="597" width="9" height="110.00" fill="#000"/>
<text transform="translate(293.64 594.16) rotate(0.04)" font-size="9.8" font-weight="bold" fill="#000" stroke="#000" stroke-width="0.25" letter-spacing="0.55">*</text>
<rect x="304.25" y="605.5" width="9" height="101.50" fill="#000"/>
<path d="M308.75 605.5V597" stroke="#444" stroke-width="0.8" fill="none"/>
<path d="M306.05 597H311.45" stroke="#333" stroke-width="0.85" fill="none"/>
<text transform="translate(306.84 596.16) rotate(0.04)" font-size="9.8" font-weight="bold" fill="#000" stroke="#000" stroke-width="0.25" letter-spacing="0.55">*</text>
<rect x="317.5" y="591.75" width="9" height="115.25" fill="#000"/>
<path d="M322.00 591.75V586.4" stroke="#444" stroke-width="0.8" fill="none"/>
<path d="M319.30 586.4H324.70" stroke="#333" stroke-width="0.85" fill="none"/>
<text transform="translate(320.69 585.21) rotate(0.04)" font-size="9.8" font-weight="bold" fill="#000" stroke="#000" stroke-width="0.25" letter-spacing="0.55">*</text>
<text transform="translate(209.4 667.71) rotate(-90) scale(0.9572 1)" font-size="14.1" font-weight="bold">Fold activation</text>
<text transform="translate(203.25 718.30) rotate(0.04) scale(0.9792 1)" font-size="8.5" font-weight="bold" fill="#000" stroke="#000" stroke-width="0.2">USF1</text>
<text transform="translate(203.25 728.50) rotate(0.04) scale(0.9792 1)" font-size="8.5" font-weight="bold" fill="#000" stroke="#000" stroke-width="0.2">USF2</text>
<text transform="translate(203.42 738.80) rotate(0.04) scale(0.9792 1)" font-size="8.5" font-weight="bold" fill="#000" stroke="#000" stroke-width="0.2">c-Myc</text>
<text transform="translate(203.19 749.05) rotate(0.04) scale(0.9792 1)" font-size="8.5" font-weight="bold" fill="#000" stroke="#000" stroke-width="0.2">Max</text>
<text transform="translate(241.07 718.24) rotate(0.04)" font-size="8.6" font-weight="bold" fill="#000" stroke="#000" stroke-width="0.3">-</text>
<text transform="translate(253.29 718.20) rotate(0.04)" font-size="8.4" font-weight="bold" fill="#000" stroke="#000" stroke-width="0.25">+</text>
<text transform="translate(267.32 718.24) rotate(0.04)" font-size="8.6" font-weight="bold" fill="#000" stroke="#000" stroke-width="0.3">-</text>
<text transform="translate(279.54 718.20) rotate(0.04)" font-size="8.4" font-weight="bold" fill="#000" stroke="#000" stroke-width="0.25">+</text>
<text transform="translate(293.57 718.24) rotate(0.04)" font-size="8.6" font-weight="bold" fill="#000" stroke="#000" stroke-width="0.3">-</text>
<text transform="translate(306.57 718.24) rotate(0.04)" font-size="8.6" font-weight="bold" fill="#000" stroke="#000" stroke-width="0.3">-</text>
<text transform="translate(319.57 718.24) rotate(0.04)" font-size="8.6" font-weight="bold" fill="#000" stroke="#000" stroke-width="0.3">-</text>
<text transform="translate(241.07 728.44) rotate(0.04)" font-size="8.6" font-weight="bold" fill="#000" stroke="#000" stroke-width="0.3">-</text>
<text transform="translate(254.32 728.44) rotate(0.04)" font-size="8.6" font-weight="bold" fill="#000" stroke="#000" stroke-width="0.3">-</text>
<text transform="translate(266.29 728.40) rotate(0.04)" font-size="8.4" font-weight="bold" fill="#000" stroke="#000" stroke-width="0.25">+</text>
<text transform="translate(279.54 728.40) rotate(0.04)" font-size="8.4" font-weight="bold" fill="#000" stroke="#000" stroke-width="0.25">+</text>
<text transform="translate(293.57 728.44) rotate(0.04)" font-size="8.6" font-weight="bold" fill="#000" stroke="#000" stroke-width="0.3">-</text>
<text transform="translate(306.57 728.44) rotate(0.04)" font-size="8.6" font-weight="bold" fill="#000" stroke="#000" stroke-width="0.3">-</text>
<text transform="translate(319.57 728.44) rotate(0.04)" font-size="8.6" font-weight="bold" fill="#000" stroke="#000" stroke-width="0.3">-</text>
<text transform="translate(241.07 738.94) rotate(0.04)" font-size="8.6" font-weight="bold" fill="#000" stroke="#000" stroke-width="0.3">-</text>
<text transform="translate(254.32 738.94) rotate(0.04)" font-size="8.6" font-weight="bold" fill="#000" stroke="#000" stroke-width="0.3">-</text>
<text transform="translate(267.32 738.94) rotate(0.04)" font-size="8.6" font-weight="bold" fill="#000" stroke="#000" stroke-width="0.3">-</text>
<text transform="translate(280.57 738.94) rotate(0.04)" font-size="8.6" font-weight="bold" fill="#000" stroke="#000" stroke-width="0.3">-</text>
<text transform="translate(292.54 738.90) rotate(0.04)" font-size="8.4" font-weight="bold" fill="#000" stroke="#000" stroke-width="0.25">+</text>
<text transform="translate(306.57 738.94) rotate(0.04)" font-size="8.6" font-weight="bold" fill="#000" stroke="#000" stroke-width="0.3">-</text>
<text transform="translate(318.54 738.90) rotate(0.04)" font-size="8.4" font-weight="bold" fill="#000" stroke="#000" stroke-width="0.25">+</text>
<text transform="translate(241.07 748.64) rotate(0.04)" font-size="8.6" font-weight="bold" fill="#000" stroke="#000" stroke-width="0.3">-</text>
<text transform="translate(254.32 748.64) rotate(0.04)" font-size="8.6" font-weight="bold" fill="#000" stroke="#000" stroke-width="0.3">-</text>
<text transform="translate(267.32 748.64) rotate(0.04)" font-size="8.6" font-weight="bold" fill="#000" stroke="#000" stroke-width="0.3">-</text>
<text transform="translate(280.57 748.64) rotate(0.04)" font-size="8.6" font-weight="bold" fill="#000" stroke="#000" stroke-width="0.3">-</text>
<text transform="translate(293.57 748.64) rotate(0.04)" font-size="8.6" font-weight="bold" fill="#000" stroke="#000" stroke-width="0.3">-</text>
<text transform="translate(305.54 748.60) rotate(0.04)" font-size="8.4" font-weight="bold" fill="#000" stroke="#000" stroke-width="0.25">+</text>
<text transform="translate(318.54 748.60) rotate(0.04)" font-size="8.4" font-weight="bold" fill="#000" stroke="#000" stroke-width="0.25">+</text>
<text transform="translate(441.96 537.60) rotate(0.04) scale(0.9882 1)" font-size="13.0" font-weight="bold" fill="#000" >mhepcPE</text>
<path d="M418.25 542.00V707.2" stroke="#4a4a4a" stroke-width="0.75" fill="none"/>
<path d="M415.05 707.2H517.5" stroke="#000" stroke-width="1" fill="none"/>
<text transform="translate(409.78 710.05) rotate(0.04)" font-size="8.3" font-weight="bold" stroke="#000" stroke-width="0.2">0</text>
<path d="M415.25 674.24H418.25" stroke="#3a3a3a" stroke-width="0.8" fill="none"/>
<text transform="translate(409.78 677.13) rotate(0.04)" font-size="8.3" font-weight="bold" stroke="#000" stroke-width="0.2">2</text>
<path d="M415.25 641.28H418.25" stroke="#3a3a3a" stroke-width="0.8" fill="none"/>
<text transform="translate(409.49 644.13) rotate(0.04)" font-size="8.3" font-weight="bold" stroke="#000" stroke-width="0.2">4</text>
<path d="M415.25 608.32H418.25" stroke="#3a3a3a" stroke-width="0.8" fill="none"/>
<text transform="translate(409.73 611.17) rotate(0.04)" font-size="8.3" font-weight="bold" stroke="#000" stroke-width="0.2">6</text>
<path d="M415.25 575.36H418.25" stroke="#3a3a3a" stroke-width="0.8" fill="none"/>
<text transform="translate(409.69 578.21) rotate(0.04)" font-size="8.3" font-weight="bold" stroke="#000" stroke-width="0.2">8</text>
<path d="M415.25 542.40H418.25" stroke="#3a3a3a" stroke-width="0.8" fill="none"/>
<text transform="translate(405.17 545.25) rotate(0.04)" font-size="8.3" font-weight="bold" stroke="#000" stroke-width="0.2">10</text>
<rect x="422.8" y="690" width="9.3" height="17.20" fill="#000"/>
<rect x="436.25" y="574.25" width="9.3" height="132.95" fill="#000"/>
<path d="M440.90 574.25V571.25" stroke="#444" stroke-width="0.8" fill="none"/>
<path d="M438.20 571.25H443.60" stroke="#333" stroke-width="0.85" fill="none"/>
<text transform="translate(436.72 572.71) rotate(0.04)" font-size="10.4" font-weight="bold" fill="#000" stroke="#000" stroke-width="0.25" letter-spacing="0.65">**</text>
<rect x="449.5" y="569.25" width="9.3" height="137.95" fill="#000"/>
<path d="M454.15 569.25V563" stroke="#444" stroke-width="0.8" fill="none"/>
<path d="M451.45 563H456.85" stroke="#333" stroke-width="0.85" fill="none"/>
<text transform="translate(449.43 564.46) rotate(0.04)" font-size="10.4" font-weight="bold" fill="#000" stroke="#000" stroke-width="0.25" letter-spacing="0.65">***</text>
<rect x="463" y="620.75" width="9.3" height="86.45" fill="#000"/>
<path d="M467.65 620.75V613.25" stroke="#444" stroke-width="0.8" fill="none"/>
<path d="M464.95 613.25H470.35" stroke="#333" stroke-width="0.85" fill="none"/>
<text transform="translate(466.22 613.96) rotate(0.04)" font-size="10.4" font-weight="bold" fill="#000" stroke="#000" stroke-width="0.25" letter-spacing="0.65">*</text>
<rect x="476.7" y="551.25" width="9.3" height="155.95" fill="#000"/>
<path d="M481.35 551.25V545.5" stroke="#444" stroke-width="0.8" fill="none"/>
<path d="M478.65 545.5H484.05" stroke="#333" stroke-width="0.85" fill="none"/>
<text transform="translate(475.93 546.96) rotate(0.04)" font-size="10.4" font-weight="bold" fill="#000" stroke="#000" stroke-width="0.25" letter-spacing="0.65">***</text>
<rect x="490" y="677" width="9.3" height="30.20" fill="#000"/>
<path d="M494.65 677V673.25" stroke="#444" stroke-width="0.8" fill="none"/>
<path d="M491.95 673.25H497.35" stroke="#333" stroke-width="0.85" fill="none"/>
<rect x="503.75" y="622.5" width="9.3" height="84.70" fill="#000"/>
<path d="M508.40 622.5V616.25" stroke="#444" stroke-width="0.8" fill="none"/>
<path d="M505.70 616.25H511.10" stroke="#333" stroke-width="0.85" fill="none"/>
<text transform="translate(505.97 617.71) rotate(0.04)" font-size="10.4" font-weight="bold" fill="#000" stroke="#000" stroke-width="0.25" letter-spacing="0.65">*</text>
<text transform="translate(398.1 666.50) rotate(-90) scale(0.9490 1)" font-size="14.1" font-weight="bold">Fold activation</text>
<text transform="translate(375.75 715.30) rotate(0.04) scale(0.9792 1)" font-size="8.5" font-weight="bold" fill="#000" stroke="#000" stroke-width="0.2">USF1</text>
<text transform="translate(375.75 725.80) rotate(0.04) scale(0.9792 1)" font-size="8.5" font-weight="bold" fill="#000" stroke="#000" stroke-width="0.2">USF2</text>
<text transform="translate(375.92 735.80) rotate(0.04) scale(0.9792 1)" font-size="8.5" font-weight="bold" fill="#000" stroke="#000" stroke-width="0.2">c-Myc</text>
<text transform="translate(375.69 746.30) rotate(0.04) scale(0.9792 1)" font-size="8.5" font-weight="bold" fill="#000" stroke="#000" stroke-width="0.2">Max</text>
<text transform="translate(426.27 715.59) rotate(0.04)" font-size="8.6" font-weight="bold" fill="#000" stroke="#000" stroke-width="0.3">-</text>
<text transform="translate(438.94 715.55) rotate(0.04)" font-size="8.4" font-weight="bold" fill="#000" stroke="#000" stroke-width="0.25">+</text>
<text transform="translate(452.97 715.59) rotate(0.04)" font-size="8.6" font-weight="bold" fill="#000" stroke="#000" stroke-width="0.3">-</text>
<text transform="translate(465.14 715.55) rotate(0.04)" font-size="8.4" font-weight="bold" fill="#000" stroke="#000" stroke-width="0.25">+</text>
<text transform="translate(478.77 715.59) rotate(0.04)" font-size="8.6" font-weight="bold" fill="#000" stroke="#000" stroke-width="0.3">-</text>
<text transform="translate(491.97 715.59) rotate(0.04)" font-size="8.6" font-weight="bold" fill="#000" stroke="#000" stroke-width="0.3">-</text>
<text transform="translate(505.17 715.59) rotate(0.04)" font-size="8.6" font-weight="bold" fill="#000" stroke="#000" stroke-width="0.3">-</text>
<text transform="translate(426.27 725.74) rotate(0.04)" font-size="8.6" font-weight="bold" fill="#000" stroke="#000" stroke-width="0.3">-</text>
<text transform="translate(439.97 725.74) rotate(0.04)" font-size="8.6" font-weight="bold" fill="#000" stroke="#000" stroke-width="0.3">-</text>
<text transform="translate(451.94 725.70) rotate(0.04)" font-size="8.4" font-weight="bold" fill="#000" stroke="#000" stroke-width="0.25">+</text>
<text transform="translate(465.14 725.70) rotate(0.04)" font-size="8.4" font-weight="bold" fill="#000" stroke="#000" stroke-width="0.25">+</text>
<text transform="translate(478.77 725.74) rotate(0.04)" font-size="8.6" font-weight="bold" fill="#000" stroke="#000" stroke-width="0.3">-</text>
<text transform="translate(491.97 725.74) rotate(0.04)" font-size="8.6" font-weight="bold" fill="#000" stroke="#000" stroke-width="0.3">-</text>
<text transform="translate(505.17 725.74) rotate(0.04)" font-size="8.6" font-weight="bold" fill="#000" stroke="#000" stroke-width="0.3">-</text>
<text transform="translate(426.27 736.04) rotate(0.04)" font-size="8.6" font-weight="bold" fill="#000" stroke="#000" stroke-width="0.3">-</text>
<text transform="translate(439.97 736.04) rotate(0.04)" font-size="8.6" font-weight="bold" fill="#000" stroke="#000" stroke-width="0.3">-</text>
<text transform="translate(452.97 736.04) rotate(0.04)" font-size="8.6" font-weight="bold" fill="#000" stroke="#000" stroke-width="0.3">-</text>
<text transform="translate(466.17 736.04) rotate(0.04)" font-size="8.6" font-weight="bold" fill="#000" stroke="#000" stroke-width="0.3">-</text>
<text transform="translate(477.74 736.00) rotate(0.04)" font-size="8.4" font-weight="bold" fill="#000" stroke="#000" stroke-width="0.25">+</text>
<text transform="translate(491.97 736.04) rotate(0.04)" font-size="8.6" font-weight="bold" fill="#000" stroke="#000" stroke-width="0.3">-</text>
<text transform="translate(504.14 736.00) rotate(0.04)" font-size="8.4" font-weight="bold" fill="#000" stroke="#000" stroke-width="0.25">+</text>
<text transform="translate(426.27 746.54) rotate(0.04)" font-size="8.6" font-weight="bold" fill="#000" stroke="#000" stroke-width="0.3">-</text>
<text transform="translate(439.97 746.54) rotate(0.04)" font-size="8.6" font-weight="bold" fill="#000" stroke="#000" stroke-width="0.3">-</text>
<text transform="translate(452.97 746.54) rotate(0.04)" font-size="8.6" font-weight="bold" fill="#000" stroke="#000" stroke-width="0.3">-</text>
<text transform="translate(466.17 746.54) rotate(0.04)" font-size="8.6" font-weight="bold" fill="#000" stroke="#000" stroke-width="0.3">-</text>
<text transform="translate(478.77 746.54) rotate(0.04)" font-size="8.6" font-weight="bold" fill="#000" stroke="#000" stroke-width="0.3">-</text>
<text transform="translate(490.94 746.50) rotate(0.04)" font-size="8.4" font-weight="bold" fill="#000" stroke="#000" stroke-width="0.25">+</text>
<text transform="translate(504.14 746.50) rotate(0.04)" font-size="8.4" font-weight="bold" fill="#000" stroke="#000" stroke-width="0.25">+</text>
</svg>
</body>
</html>
